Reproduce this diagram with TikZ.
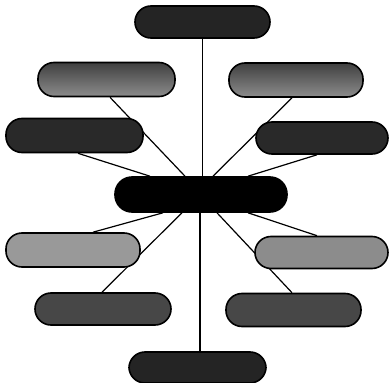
\documentclass[tikz,border=0pt]{standalone}
\usetikzlibrary{backgrounds}
\begin{document}
\begin{tikzpicture}[x=1pt,y=-1pt,
  pill/.style={draw=black,line width=1.6pt,rounded corners=16pt,minimum height=32pt,inner sep=0pt},
  spoke/.style={draw=black,line width=1.2pt}]
\useasboundingbox (0,0) rectangle (389,383);
\node[pill,fill=black!86,minimum width=135pt] (top) at (202.5,22) {};
\node[pill,top color=black!75,bottom color=black!45,minimum width=137pt,minimum height=34pt] (ul) at (106.5,79.5) {};
\node[pill,top color=black!75,bottom color=black!45,minimum width=134pt,minimum height=34pt] (ur) at (296,80) {};
\node[pill,fill=black!84,minimum width=137pt,minimum height=34pt] (ml) at (74.5,135.5) {};
\node[pill,fill=black!84,minimum width=132pt,minimum height=32pt] (mr) at (322,138) {};
\node[pill,fill=black,minimum width=172pt,minimum height=35pt,rounded corners=17pt] (c) at (201,194.5) {};
\node[pill,fill=black!40,minimum width=134pt,minimum height=34pt] (ll) at (73,250) {};
\node[pill,fill=black!45,minimum width=133pt,minimum height=32pt] (lr) at (321.5,252.5) {};
\node[pill,fill=black!72,minimum width=136pt,minimum height=32pt] (bl) at (103,309) {};
\node[pill,fill=black!72,minimum width=135pt,minimum height=33pt] (br) at (293.5,310) {};
\node[pill,fill=black!86,minimum width=137pt,minimum height=31pt] (bot) at (197.5,367.5) {};
\begin{scope}[on background layer]
\draw[spoke] (top.south) -- (top.south |- c.north);
\draw[spoke] ([xshift=3.5pt]ul.south) -- ([xshift=-16pt]c.north);
\draw[spoke] ([xshift=-4pt]ur.south) -- ([xshift=12pt]c.north);
\draw[spoke] ([xshift=3.5pt]ml.south) -- ([xshift=-51pt]c.north);
\draw[spoke] ([xshift=-5pt]mr.south) -- ([xshift=47pt]c.north);
\draw[spoke] ([xshift=-38pt]c.south) -- ([xshift=20pt]ll.north);
\draw[spoke] ([xshift=-19pt]c.south) -- ([xshift=-1pt]bl.north);
\draw[spoke] ([xshift=-1pt]c.south) -- ([xshift=2.5pt]bot.north);
\draw[spoke] ([xshift=16pt]c.south) -- ([xshift=-1.5pt]br.north);
\draw[spoke] ([xshift=47pt]c.south) -- ([xshift=-4.5pt]lr.north);
\end{scope}
\end{tikzpicture}
\end{document}
